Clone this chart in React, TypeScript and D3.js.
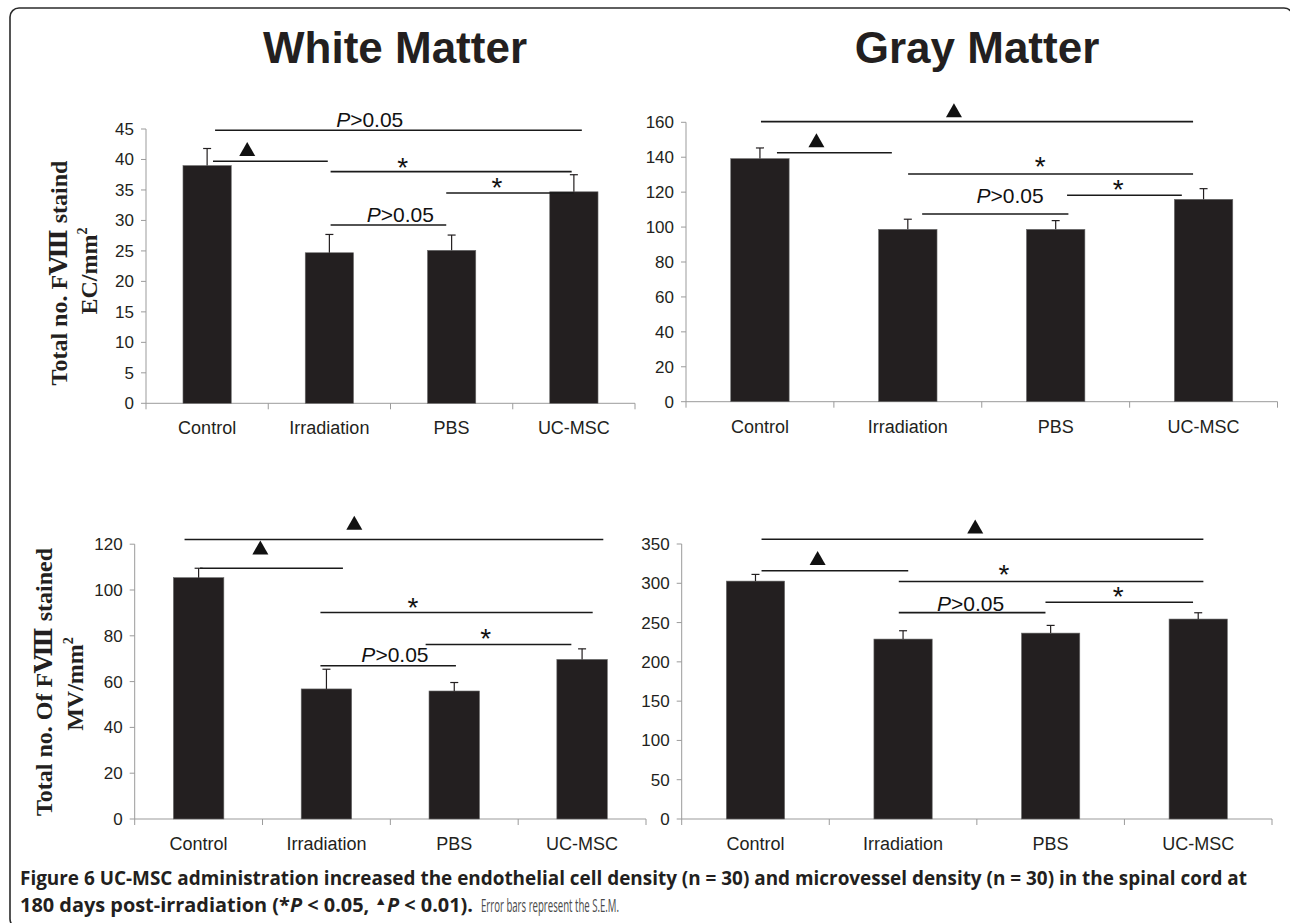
import React from "react";
import * as d3 from "d3";

const categories = ["Control", "Irradiation", "PBS", "UC-MSC"];

const whiteEC = [39.0, 24.7, 25.1, 34.7];
const whiteECErr = [2.8, 3.0, 2.5, 2.8];
const grayEC = [139.2, 98.7, 98.7, 115.9];
const grayECErr = [6.1, 5.8, 5.0, 6.1];
const whiteMV = [105.4, 56.8, 55.9, 69.7];
const whiteMVErr = [4.1, 8.6, 3.7, 4.6];
const grayMV = [302.8, 229.0, 236.6, 254.5];
const grayMVErr = [8.5, 10.6, 9.8, 8.0];

const whiteECTicks = [0, 5, 10, 15, 20, 25, 30, 35, 40, 45];
const grayECTicks = [0, 20, 40, 60, 80, 100, 120, 140, 160];
const whiteMVTicks = [0, 20, 40, 60, 80, 100, 120];
const grayMVTicks = [0, 50, 100, 150, 200, 250, 300, 350];

// significance brackets: from/to in category units (0..4), at = value level,
// mark at (mx category units, my value units)
type Ann = { from: number; to: number; at: number; mark: "tri" | "star" | "p"; mx: number; my: number };

const whiteECAnn: Ann[] = [
  { from: 0.565, to: 3.565, at: 44.8, mark: "p", mx: 1.83, my: 45.4 },
  { from: 0.548, to: 1.487, at: 39.7, mark: "tri", mx: 0.828, my: 41.7 },
  { from: 1.51, to: 3.482, at: 38.0, mark: "star", mx: 2.1, my: 39.75 },
  { from: 2.456, to: 3.499, at: 34.5, mark: "star", mx: 2.87, my: 36.5 },
  { from: 1.51, to: 2.456, at: 29.25, mark: "p", mx: 2.08, my: 29.8 },
];
const grayECAnn: Ann[] = [
  { from: 0.507, to: 3.429, at: 160.4, mark: "tri", mx: 1.812, my: 166.9 },
  { from: 0.615, to: 1.392, at: 142.6, mark: "tri", mx: 0.882, my: 149.7 },
  { from: 1.502, to: 3.429, at: 130.4, mark: "star", mx: 2.395, my: 138.4 },
  { from: 2.577, to: 3.353, at: 118.2, mark: "star", mx: 2.922, my: 125.3 },
  { from: 1.597, to: 2.586, at: 107.5, mark: "p", mx: 2.192, my: 113.8 },
];
const whiteMVAnn: Ann[] = [
  { from: 0.39, to: 3.666, at: 122.05, mark: "tri", mx: 1.718, my: 129.4 },
  { from: 0.511, to: 1.629, at: 109.5, mark: "tri", mx: 0.983, my: 118.6 },
  { from: 1.453, to: 3.583, at: 90.2, mark: "star", mx: 2.177, my: 95.1 },
  { from: 2.276, to: 3.416, at: 76.2, mark: "star", mx: 2.746, my: 81.7 },
  { from: 1.453, to: 2.513, at: 66.9, mark: "p", mx: 2.036, my: 68.6 },
];
const grayMVAnn: Ann[] = [
  { from: 0.541, to: 3.535, at: 356, mark: "tri", mx: 1.989, my: 372.4 },
  { from: 0.541, to: 1.535, at: 316, mark: "tri", mx: 0.921, my: 332.3 },
  { from: 1.471, to: 3.535, at: 302.3, mark: "star", mx: 2.183, my: 319.5 },
  { from: 2.465, to: 3.465, at: 275.8, mark: "star", mx: 2.958, my: 291.5 },
  { from: 1.471, to: 2.465, at: 262.6, mark: "p", mx: 1.958, my: 265.1 },
];

const SANS = "'Liberation Sans', Arial, Helvetica, sans-serif";
const SERIF = "'Liberation Serif', 'Times New Roman', 'DejaVu Serif', serif";
const BAR = "#231f20";
const AXIS = "#9b9b9b";

type PanelProps = {
  x0: number; x1: number; y0: number; yTop: number; max: number;
  ticks: number[]; values: number[]; errs: number[]; anns: Ann[];
};

function Panel({ x0, x1, y0, yTop, max, ticks, values, errs, anns }: PanelProps) {
  const xb = d3.scaleBand<string>().domain(categories).range([x0, x1]).paddingInner(0.605).paddingOuter(0.3025);
  const xu = d3.scaleLinear().domain([0, categories.length]).range([x0, x1]);
  const y = d3.scaleLinear().domain([0, max]).range([y0, yTop]);
  const bounds = d3.range(categories.length + 1).map((i) => xu(i));
  return (
    <g>
      {/* y axis */}
      <line x1={x0} x2={x0} y1={y(0)} y2={y(max)} stroke={AXIS} strokeWidth={1} />
      {ticks.map((t) => (
        <g key={t}>
          <line x1={x0 - 5} x2={x0} y1={y(t)} y2={y(t)} stroke={AXIS} strokeWidth={1} />
          <text x={x0 - 12} y={y(t)} dy="0.35em" textAnchor="end" fontFamily={SANS} fontSize={17} fill="#231f20">
            {t}
          </text>
        </g>
      ))}
      {/* x axis */}
      <line x1={x0} x2={x1} y1={y(0)} y2={y(0)} stroke={AXIS} strokeWidth={1} />
      {bounds.map((b, i) => (
        <line key={i} x1={b} x2={b} y1={y(0)} y2={y(0) + 6} stroke={AXIS} strokeWidth={1} />
      ))}
      {categories.map((c) => (
        <text key={c} x={(xb(c) as number) + xb.bandwidth() / 2} y={y(0) + 31} textAnchor="middle" fontFamily={SANS} fontSize={18} fill="#231f20">
          {c}
        </text>
      ))}
      {/* bars */}
      {categories.map((c, i) => {
        const bx = xb(c) as number;
        const cx = bx + xb.bandwidth() / 2;
        return (
          <g key={c}>
            <rect x={bx} y={y(values[i])} width={xb.bandwidth()} height={y(0) - y(values[i])} fill={BAR} stroke="#6d6d6d" strokeWidth={0.6} />
            <line x1={cx} x2={cx} y1={y(values[i])} y2={y(values[i] + errs[i])} stroke="#231f20" strokeWidth={1.2} />
            <line x1={cx - 4} x2={cx + 4} y1={y(values[i] + errs[i])} y2={y(values[i] + errs[i])} stroke="#231f20" strokeWidth={1.2} />
          </g>
        );
      })}
      {/* significance */}
      {anns.map((a, i) => {
        const mx = xu(a.mx);
        const my = y(a.my);
        let mark: React.ReactNode = null;
        if (a.mark === "tri") {
          const p = d3.path();
          p.moveTo(mx - 8, my + 7);
          p.lineTo(mx + 8, my + 7);
          p.lineTo(mx, my - 7);
          p.closePath();
          mark = <path d={p.toString()} fill="#111" />;
        } else if (a.mark === "star") {
          mark = (
            <text x={mx} y={my + 16} textAnchor="middle" fontFamily={SANS} fontSize={28} fill="#111">*</text>
          );
        } else {
          mark = (
            <text x={mx} y={my} textAnchor="middle" fontFamily={SANS} fontSize={21} fill="#111">
              <tspan fontStyle="italic">P</tspan>&gt;0.05
            </text>
          );
        }
        return (
          <g key={i}>
            <line x1={xu(a.from)} x2={xu(a.to)} y1={y(a.at)} y2={y(a.at)} stroke="#1a1a1a" strokeWidth={1.6} />
            {mark}
          </g>
        );
      })}
    </g>
  );
}

function YLabel({ x1, x2, cy1, cy2, l1, l2 }: { x1: number; x2: number; cy1: number; cy2: number; l1: string; l2: string }) {
  return (
    <g fontFamily={SERIF} fontWeight="bold" fontSize={24} fill="#231f20">
      <text transform={`translate(${x1},${cy1}) rotate(-90)`} textAnchor="middle">{l1}</text>
      <text transform={`translate(${x2},${cy2}) rotate(-90)`} textAnchor="middle">
        {l2}
        <tspan fontSize={14} dy={-10}>2</tspan>
      </text>
    </g>
  );
}

export default function App() {
  return (
    <svg width={1290} height={923} style={{ position: "absolute", left: 0, top: 0, display: "block", background: "#fff" }}>
      <rect x={0} y={0} width={1290} height={923} fill="#fff" />
      <rect x={10} y={8} width={1283} height={920} rx={9} fill="none" stroke="#2b2b2b" strokeWidth={1.6} />

      <text x={395} y={63} textAnchor="middle" fontFamily={SANS} fontWeight="bold" fontSize={44} fill="#231f20">White Matter</text>
      <text x={977} y={63} textAnchor="middle" fontFamily={SANS} fontWeight="bold" fontSize={44} fill="#231f20">Gray Matter</text>

      <Panel x0={146} x1={635} y0={403.3} yTop={129} max={45} ticks={whiteECTicks} values={whiteEC} errs={whiteECErr} anns={whiteECAnn} />
      <Panel x0={686} x1={1277.5} y0={401.7} yTop={122.3} max={160} ticks={grayECTicks} values={grayEC} errs={grayECErr} anns={grayECAnn} />
      <Panel x0={134.7} x1={646} y0={819} yTop={544.2} max={120} ticks={whiteMVTicks} values={whiteMV} errs={whiteMVErr} anns={whiteMVAnn} />
      <Panel x0={681.7} x1={1272} y0={819} yTop={544} max={350} ticks={grayMVTicks} values={grayMV} errs={grayMVErr} anns={grayMVAnn} />

      <YLabel x1={66.5} x2={97} cy1={273} cy2={271} l1="Total no. FⅧ staind" l2="EC/mm" />
      <YLabel x1={52} x2={83} cy1={682} cy2={684} l1="Total no. Of FⅧ stained" l2="MV/mm" />

      <g fontFamily="'Open Sans', 'Noto Sans', sans-serif" fontSize={19}>
        <text x={20} y={885} fontWeight="bold" fill="#231f20" textLength={1227} lengthAdjust="spacingAndGlyphs">
          Figure 6 UC-MSC administration increased the endothelial cell density (n = 30) and microvessel density (n = 30) in the spinal cord at
        </text>
        <text x={20} y={912} fontWeight="bold" fill="#231f20" textLength={453} lengthAdjust="spacingAndGlyphs">
          180 days post-irradiation (*<tspan fontStyle="italic">P</tspan> &lt; 0.05, <tspan fontSize={12} dy={-7}>▲</tspan><tspan fontStyle="italic" dy={7}>P</tspan> &lt; 0.01).
        </text>
        <text x={481} y={912} fill="#4a4a4a" fontSize={19} textLength={138} lengthAdjust="spacingAndGlyphs">
          Error bars represent the S.E.M.
        </text>
      </g>
    </svg>
  );
}
